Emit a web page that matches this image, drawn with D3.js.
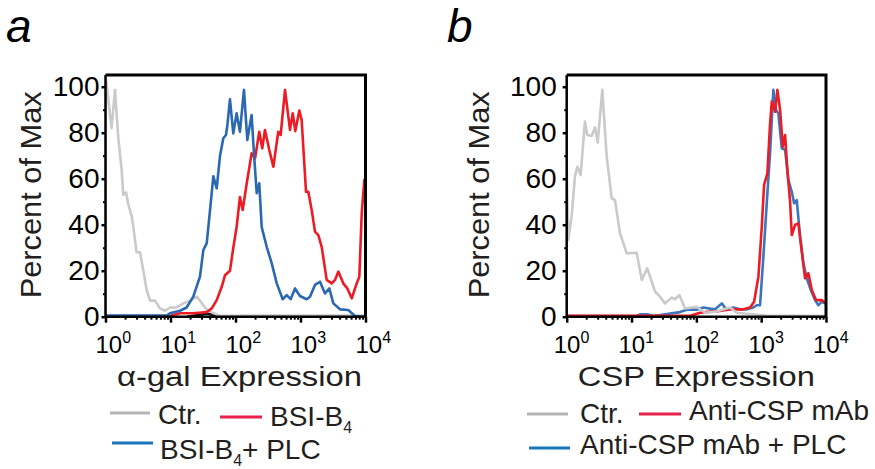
<!DOCTYPE html>
<html>
<head>
<meta charset="utf-8">
<script src="https://cdnjs.cloudflare.com/ajax/libs/d3/7.8.5/d3.min.js"></script>
<style>
  body { margin: 0; background: #fff; }
  text { font-family: "Liberation Sans", Arial, Helvetica, sans-serif; }
</style>
</head>
<body>
<script>
'use strict';

// ---- data: [expression, percent of max] ----
const yTicks = [0, 20, 40, 60, 80, 100];
const yMinorTicks = [10, 30, 50, 70, 90];
const xTickExponents = [0, 1, 2, 3, 4];
const xMajorTicks = [1, 10, 100, 1000, 10000];
const xMinorTicks = [2, 3, 4, 5, 6, 7, 8, 9, 20, 30, 40, 50, 60, 70, 80, 90,
  200, 300, 400, 500, 600, 700, 800, 900, 2000, 3000, 4000, 5000, 6000, 7000, 8000, 9000];

// panel a
const ctrA = [[1, 0], [1, 105], [1.24, 82], [1.40, 98.6], [1.57, 78], [1.77, 64], [1.88, 53],
  [2.07, 54], [2.24, 49], [2.53, 43.5], [2.68, 39], [3.01, 28], [3.40, 28], [3.82, 20],
  [4.30, 11.6], [4.84, 7], [5.78, 7], [6.89, 3.6], [8.22, 2.6], [9.82, 4], [12.4, 4],
  [15.7, 5.8], [20.0, 7], [25.3, 8.7], [28.4, 7], [36.1, 3], [45.5, 1.6], [57.8, 0.4],
  [200, 0.5], [2000, 0.5], [10000, 0.5]];

const bsiA = [[1, 0.3], [9.82, 0.3], [14.0, 1.5], [22.4, 1.5], [36.1, 2], [43.1, 3.6], [51.4, 7.2],
  [61.4, 13], [68.9, 18], [82.2, 20], [92.5, 30], [104, 39], [117, 52], [129, 46.4], [149, 58],
  [177, 71], [200, 68.9], [232, 80.4], [258, 73.2], [284, 81.2], [331, 72.5], [382, 65.2],
  [455, 80.4], [495, 79], [578, 98.6], [689, 81.2], [759, 88.4], [832, 80.7], [959, 89.6],
  [1042, 85.5], [1216, 54.3], [1318, 54.3], [1486, 46.4], [1671, 37], [1879, 35.5], [2118, 30.4],
  [2529, 16], [3020, 14.5], [3396, 16], [3819, 19.6], [4550, 14.5], [5248, 12.3], [6138, 8],
  [7328, 14.5], [8035, 17.4], [8750, 45], [9594, 59.4], [10000, 60]];

const bsiPlcA = [[1, 0.5], [8.73, 0.5], [9.82, 1.5], [14.0, 2.6], [17.7, 4], [22.4, 8.7], [28.4, 17.4],
  [32.0, 29], [36.1, 32], [40.6, 46.4], [45.6, 61], [51.4, 55.8], [57.8, 70], [64.9, 77.6],
  [71.4, 79], [74.8, 83], [82.2, 94.5], [92.5, 79.7], [104, 88.4], [117, 80.4], [135, 98.6],
  [152, 76.8], [177, 87.7], [193, 70.3], [212, 53.7], [232, 58], [253, 39], [302, 30.4],
  [361, 23.2], [431, 14.5], [532, 7.6], [614, 9.4], [706, 7.6], [822, 12.3], [982, 9],
  [1245, 7.6], [1400, 8.7], [1671, 13.8], [1995, 15.2], [2382, 10.1], [2773, 12.3], [3199, 5.8],
  [4055, 3.2], [5433, 2.9], [6887, 0.3], [10000, 0]];

const blankA = [[18, 0], [28, 0.8], [36, 1.3], [45, 0.9], [58, 0]];

// panel b
const ctrB = [[1, 0], [1, 65], [1.06, 33.3], [1.19, 43.5], [1.34, 61], [1.46, 65.2], [1.64, 61.6],
  [1.91, 84.8], [2.08, 79], [2.43, 78.6], [2.74, 82.3], [3.01, 75.7], [3.54, 98.6], [4.14, 69.6],
  [4.94, 51.5], [5.56, 50.7], [6.65, 36.2], [8.43, 27.6], [12.0, 27.8], [14.4, 16], [17.5, 21],
  [23.1, 10.9], [27.5, 8.7], [32.9, 5.8], [41.7, 8.3], [46.9, 7.6], [54.7, 9.4], [67.0, 3.6],
  [84.9, 4], [101, 4.3], [136, 1.7], [195, 2.2], [331, 4], [420, 1.7], [675, 1.2], [1219, 0.4],
  [10000, 0.4]];

const cspB = [[1, 0.4], [80, 0.4], [114, 1.7], [163, 2.2], [232, 2.5], [331, 3.2], [531, 3.2],
  [675, 4], [778, 6.5], [906, 17.4], [1021, 39], [1109, 57.3], [1247, 62.3], [1371, 84],
  [1459, 93.5], [1641, 89.1], [1778, 98.6], [1959, 89.9], [2153, 73.9], [2339, 79], [2535, 63.8],
  [2793, 50], [2965, 35.5], [3334, 39.9], [3750, 40.6], [4236, 28.3], [4753, 16.7], [5346, 18.9],
  [6039, 11.6], [7031, 7.2], [8610, 7.2], [9683, 6.1], [10000, 6]];

const cspPlcB = [[1, 0.3], [12, 0.3], [13.5, 1], [18, 1], [22, 0.3], [56, 2], [71.1, 3], [80, 3.2],
  [101, 3], [128, 4], [163, 3.5], [195, 3.2], [247, 5.8], [294, 2.9], [372, 4], [472, 3.2],
  [600, 3.2], [759, 4], [855, 5], [961, 5], [1081, 26], [1219, 49.3], [1371, 71], [1542, 98.6],
  [1698, 89.9], [1841, 88.4], [2080, 73.2], [2339, 72.5], [2630, 59.4], [2965, 54.3],
  [3221, 49.3], [3540, 50.7], [3981, 34.8], [4477, 23.2], [5058, 16.7], [5821, 11.6],
  [6792, 7.2], [7638, 5], [8610, 6.5], [9683, 5.8], [10000, 5.8]];

const svg = d3.select('body').append('svg')
  .attr('width', 875)
  .attr('height', 469);

const panels = [
  {
    id: 'a', letterX: 6, left: 105.5, right: 365.5, yLabelPad: 2, xLabelShift: -10,
    xTitle: '\u03b1-gal Expression', xTitleLen: 245, yTitleX: 30,
    series: [
      { data: blankA, color: '#111' },
      { data: ctrA, color: '#cacaca' },
      { data: bsiA, color: '#ed1c24' },
      { data: bsiPlcA, color: '#2a68b2' }
    ]
  },
  {
    id: 'b', letterX: 447, left: 566.7, right: 826, yLabelPad: 6, xLabelShift: -13,
    xTitle: 'CSP Expression', xTitleLen: 237, yTitleX: 478,
    series: [
      { data: cspPlcB, color: '#3b75c0' },
      { data: cspB, color: '#ed1c24' },
      { data: ctrB, color: '#cacaca' }
    ]
  }
];

const plotTop = 75, plotBottom = 316.7;

panels.forEach(drawPanel);
drawLegends();

function drawPanel(p) {
  let xScale = d3.scaleLog().domain([1, 10000]).range([p.left, p.right]);
  let yScale = d3.scaleLinear().domain([0, 105]).range([plotBottom, plotTop + 0.2]);

  // clip
  svg.append('clipPath').attr('id', 'clip-' + p.id)
    .append('rect')
    .attr('x', p.left)
    .attr('y', plotTop)
    .attr('width', p.right - p.left)
    .attr('height', plotBottom - plotTop + 1);

  let line = d3.line()
    .x(d => xScale(d[0]))
    .y(d => yScale(d[1]));

  let g = svg.append('g').attr('clip-path', 'url(#clip-' + p.id + ')');
  p.series.forEach(s => {
    g.append('path')
      .attr('d', line(s.data))
      .attr('fill', 'none')
      .attr('stroke', s.color)
      .attr('stroke-width', 2.6)
      .attr('stroke-linejoin', 'round');
  });

  // frame top + right
  svg.append('path')
    .attr('d', `M${p.left},${plotTop}H${p.right}V${plotBottom}`)
    .attr('fill', 'none')
    .attr('stroke', '#000')
    .attr('stroke-width', 3);

  // y axis
  let yAxis = svg.append('g')
    .attr('transform', `translate(${p.left},0)`)
    .call(d3.axisLeft(yScale).tickValues(yTicks).tickSize(4).tickPadding(p.yLabelPad));
  yAxis.select('.domain').attr('stroke-width', 2.5).attr('d', `M0,${plotTop}V${plotBottom}`);
  yAxis.selectAll('.tick line').attr('stroke-width', 2.5);
  yAxis.selectAll('.tick text')
    .attr('font-size', 28)
    .attr('fill', '#000')
    .style('font-family', '"Liberation Sans", Arial, sans-serif');

  svg.append('g')
    .attr('transform', `translate(${p.left},0)`)
    .call(d3.axisLeft(yScale).tickValues(yMinorTicks).tickSize(2.5).tickFormat(''))
    .call(a => a.select('.domain').remove())
    .selectAll('.tick line').attr('stroke-width', 2);

  // x axis
  let xAxis = svg.append('g')
    .attr('transform', `translate(0,${plotBottom})`)
    .call(d3.axisBottom(xScale).tickValues(xMajorTicks).tickSize(6).tickFormat(''));
  xAxis.select('.domain').attr('stroke-width', 2.5).attr('d', `M${p.left},0H${p.right}`);
  xAxis.selectAll('.tick line').attr('stroke-width', 2.5);

  svg.append('g')
    .attr('transform', `translate(0,${plotBottom})`)
    .call(d3.axisBottom(xScale).tickValues(xMinorTicks).tickSize(3).tickFormat(''))
    .call(a => a.select('.domain').remove())
    .selectAll('.tick line').attr('stroke-width', 2);

  // x tick labels 10^n
  xTickExponents.forEach((e, i) => {
    let t = svg.append('text')
      .attr('x', xScale(xMajorTicks[i]) + p.xLabelShift)
      .attr('y', 353)
      .attr('font-size', 24)
      .attr('fill', '#000');
    t.append('tspan').text('10');
    t.append('tspan').attr('font-size', 16).attr('dy', -10).text(e);
  });

  // axis titles
  svg.append('text')
    .attr('x', (p.left + p.right) / 2 + (p.id === 'a' ? 4 : 0))
    .attr('y', 386)
    .attr('text-anchor', 'middle')
    .attr('font-size', 27)
    .attr('fill', '#231f20')
    .attr('textLength', p.xTitleLen)
    .attr('lengthAdjust', 'spacingAndGlyphs')
    .text(p.xTitle);

  svg.append('text')
    .attr('transform', `translate(${p.yTitleX + 11},${(plotTop + plotBottom) / 2 - 1})rotate(-90)`)
    .attr('text-anchor', 'middle')
    .attr('font-size', 30)
    .attr('fill', '#231f20')
    .attr('textLength', 207)
    .attr('lengthAdjust', 'spacingAndGlyphs')
    .text('Percent of Max');

  // panel letter
  svg.append('text')
    .attr('x', p.letterX)
    .attr('y', 42)
    .attr('font-size', 46)
    .attr('font-style', 'italic')
    .attr('fill', '#000')
    .text(p.id);
}

function legendItem(x1, x2, ly, color, tx, ty, parts) {
  svg.append('line')
    .attr('x1', x1).attr('x2', x2)
    .attr('y1', ly).attr('y2', ly)
    .attr('stroke', color)
    .attr('stroke-width', 3);
  let t = svg.append('text')
    .attr('x', tx)
    .attr('y', ty)
    .attr('font-size', 28)
    .attr('fill', '#231f20');
  parts.forEach(pt => {
    if (pt.sub) {
      t.append('tspan').attr('font-size', 16).attr('dy', 7).text(pt.text);
    } else {
      t.append('tspan').attr('dy', pt.back ? -7 : 0).text(pt.text);
    }
  });
}

function drawLegends() {
  // panel a
  legendItem(110, 150, 413, '#b5b5b5', 158, 424, [{ text: 'Ctr.' }]);
  legendItem(220, 262, 417, '#e8204a', 270, 426, [{ text: 'BSI-B' }, { text: '4', sub: true }]);
  legendItem(112, 153, 443, '#1b75bb', 160, 459, [{ text: 'BSI-B' }, { text: '4', sub: true }, { text: '+ PLC', back: true }]);
  // panel b
  legendItem(527, 568, 414, '#b5b5b5', 580, 423, [{ text: 'Ctr.' }]);
  legendItem(639, 681, 414, '#e8204a', 689, 420, [{ text: 'Anti-CSP mAb' }]);
  legendItem(529, 570, 448, '#1b75bb', 580, 454, [{ text: 'Anti-CSP mAb + PLC' }]);
}
</script>
</body>
</html>
